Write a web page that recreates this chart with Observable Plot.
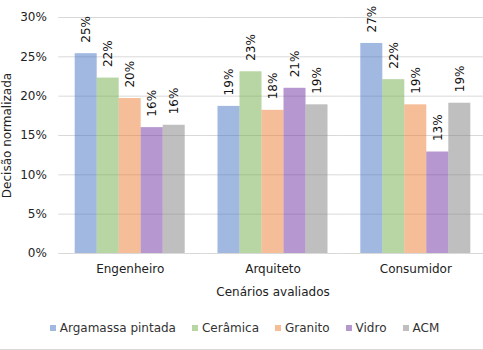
<!DOCTYPE html>
<html>
<head>
<meta charset="utf-8">
<script src="https://cdn.jsdelivr.net/npm/d3@7"></script>
<script src="https://cdn.jsdelivr.net/npm/@observablehq/plot@0.6"></script>
<style>
  html, body { margin: 0; padding: 0; background: #fff; }
  #chart { width: 483px; height: 349px; border-bottom: 1px solid #d9d9d9; position: relative; overflow: hidden; font-family: "DejaVu Sans", sans-serif; }
  #legend { display: flex; justify-content: center; gap: 16px; font-size: 12px; color: #333; margin-top: 16px; padding-left: 6px; }
  #legend .item { display: flex; align-items: center; }
  #legend .sw { width: 6px; height: 6px; margin-right: 4px; }
</style>
</head>
<body>
<div id="chart"></div>
<script>
const categories = ["Engenheiro", "Arquiteto", "Consumidor"];
const series = ["Argamassa pintada", "Cerâmica", "Granito", "Vidro", "ACM"];
const engenheiro = [0.254, 0.223, 0.197, 0.160, 0.163];
const arquiteto = [0.187, 0.231, 0.182, 0.210, 0.189];
const consumidor = [0.267, 0.221, 0.189, 0.129, 0.191];
const colors = ["#4472c4", "#70ad47", "#ed7d31", "#7030a0", "#7f7f7f"];
const yTicks = [0, 0.05, 0.10, 0.15, 0.20, 0.25, 0.30];

const byCategory = [engenheiro, arquiteto, consumidor];
const data = categories.flatMap((c, i) => series.map((s, j) => ({category: c, series: s, value: byCategory[i][j]})));

const chart = Plot.plot({
  width: 483,
  height: 305,
  marginLeft: 58,
  marginRight: 0,
  marginTop: 17,
  marginBottom: 52,
  style: {fontFamily: "DejaVu Sans, sans-serif", fontSize: "12px", color: "#333", overflow: "visible"},
  fx: {domain: categories, range: [58.3, 486.7], padding: 0, round: false, axis: null},
  x: {domain: series, paddingInner: 0, paddingOuter: 0.745, round: false, axis: null},
  y: {domain: [0, 0.30], axis: null},
  color: {domain: series, range: colors},
  marks: [
    Plot.ruleY(yTicks, {stroke: "#d9d9d9", strokeWidth: 1}),
    Plot.barY(data, {fx: "category", x: "series", y: "value", fill: "series", fillOpacity: 0.5}),
    Plot.text(data, {fx: "category", x: "series", y: "value", text: d => Math.round(d.value * 100) + "%",
      rotate: -90, textAnchor: "start", lineAnchor: "middle", dy: -11, fill: "#111", fontSize: 12}),
    Plot.axisY(yTicks, {tickSize: 0, tickPadding: 12, tickFormat: d => Math.round(d * 100) + "%",
      label: "Decisão normalizada", labelAnchor: "center", labelOffset: 56, labelArrow: "none", fill: "#222"}),
    Plot.axisFx({anchor: "bottom", tickSize: 0, tickPadding: 11, label: "Cenários avaliados",
      labelAnchor: "center", labelOffset: 42, labelArrow: "none", fill: "#222"})
  ]
});
document.getElementById("chart").appendChild(chart);

const legend = document.createElement("div");
legend.id = "legend";
series.forEach((s, i) => {
  const item = document.createElement("div");
  item.className = "item";
  const sw = document.createElement("span");
  sw.className = "sw";
  sw.style.background = colors[i];
  sw.style.opacity = 0.5;
  const t = document.createElement("span");
  t.textContent = s;
  item.appendChild(sw);
  item.appendChild(t);
  legend.appendChild(item);
});
document.getElementById("chart").appendChild(legend);
</script>
</body>
</html>
